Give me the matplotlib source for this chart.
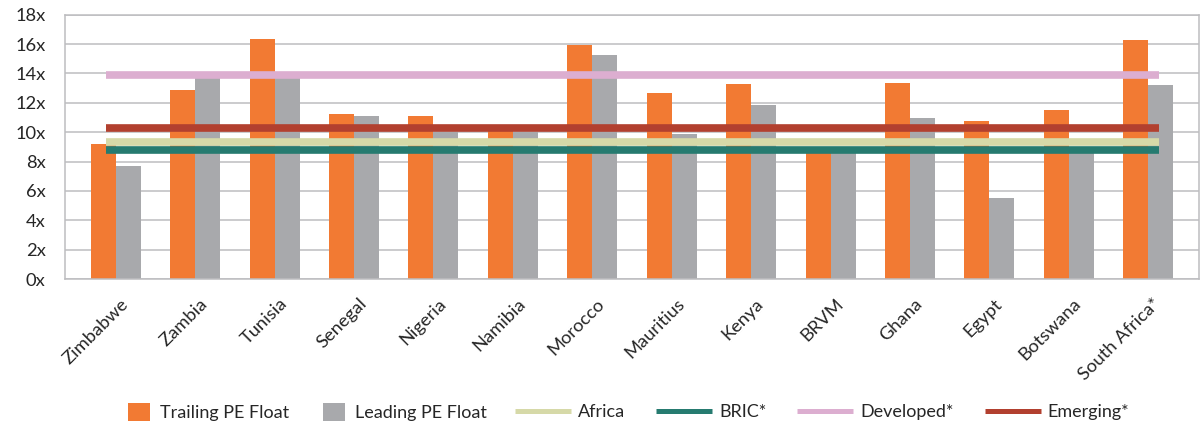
import matplotlib
matplotlib.use('Agg')
import matplotlib.pyplot as plt
import matplotlib.transforms as mtrans
from matplotlib.lines import Line2D
from matplotlib.patches import Patch
import numpy as np

# ---- data ----
countries = ['Zimbabwe', 'Zambia', 'Tunisia', 'Senegal', 'Nigeria', 'Namibia',
             'Morocco', 'Mauritius', 'Kenya', 'BRVM', 'Ghana', 'Egypt',
             'Botswana', 'South Africa*']
trailing_pe = [9.2, 12.9, 16.35, 11.25, 11.1, 10.2, 15.95, 12.7, 13.3, 8.8,
               13.35, 10.75, 11.5, 16.3]
leading_pe = [7.7, 13.8, 13.8, 11.1, 10.0, 10.0, 15.25, 9.9, 11.85, 8.6,
              10.95, 5.5, 8.8, 13.2]
africa_pe = 9.3
bric_pe = 8.8
developed_pe = 13.9
emerging_pe = 10.25
y_ticks = [0, 2, 4, 6, 8, 10, 12, 14, 16, 18]
y_tick_labels = ['0x', '2x', '4x', '6x', '8x', '10x', '12x', '14x', '16x', '18x']

# ---- style ----
ORANGE = '#F27A33'
GREY = '#A8A9AC'
AFRICA = '#D6D9A8'
BRIC = '#267B70'
DEVELOPED = '#DCAED0'
EMERGING = '#B2402F'
GRID = '#BDBDC0'
TEXT = '#262626'
FS = 13.0
TFS = 13.2

plt.rcParams['font.family'] = ['Lato', 'DejaVu Sans']

W, H = 1201, 425
fig = plt.figure(figsize=(W / 100, H / 100), dpi=100)
ax = fig.add_axes([65 / W, 1 - 279 / H, (1199 - 65) / W, (279 - 14.7) / H])

x = np.arange(len(countries))
bw = 0.315
ax.bar(x - bw / 2, trailing_pe, bw, color=ORANGE, zorder=2)
ax.bar(x + bw / 2, leading_pe, bw, color=GREY, zorder=2)
ax.set_xlim(-0.64, len(countries) - 1 + 0.64)
ax.set_ylim(0, 18)
ax.set_yticks(y_ticks, y_tick_labels)
ax.yaxis.grid(True, color=GRID, lw=1.1, zorder=0)
ax.set_axisbelow(True)
for s in ax.spines.values():
    s.set_color(GRID)
    s.set_linewidth(1.1)
ax.tick_params(axis='y', length=0, labelsize=TFS, colors=TEXT, pad=14)
ax.tick_params(axis='x', length=0, labelsize=TFS, colors=TEXT, pad=16)
ax.set_xticks(x, countries, rotation=45, ha='right', va='center',
              rotation_mode='anchor')
off = mtrans.ScaledTranslation(10 / 100, 0, fig.dpi_scale_trans)
for lab in ax.get_xticklabels():
    lab.set_transform(lab.get_transform() + off)

# reference lines on a category axis
ax2 = ax.twiny()
ax2.set_xlim(-0.5, len(countries) - 0.5)
ax2.set_axis_off()
lw = 5.5
for val, col in [(africa_pe, AFRICA), (bric_pe, BRIC),
                 (developed_pe, DEVELOPED), (emerging_pe, EMERGING)]:
    ax2.plot(x, [val] * len(x), color=col, lw=lw, solid_capstyle='butt', zorder=3)

# legends
px = FS * 100 / 72
h1 = [Patch(facecolor=ORANGE, edgecolor='none'), Patch(facecolor=GREY, edgecolor='none')]
fig.legend(h1, ['Trailing PE Float', 'Leading PE Float'], loc='center left',
           bbox_to_anchor=(128 / W, 1 - 412 / H), ncol=2, frameon=False,
           fontsize=FS, labelcolor=TEXT, handlelength=22 / px, handleheight=22 / px,
           handletextpad=10 / px, columnspacing=34 / px, borderpad=0, borderaxespad=0)
h2 = [Line2D([], [], color=c, lw=3.6, solid_capstyle='butt')
      for c in (AFRICA, BRIC, DEVELOPED, EMERGING)]
fig.legend(h2, ['Africa', 'BRIC*', 'Developed*', 'Emerging*'], loc='center left',
           bbox_to_anchor=(515 / W, 1 - 412 / H), ncol=4, frameon=False,
           fontsize=FS, labelcolor=TEXT, handlelength=56 / px,
           handletextpad=7 / px, columnspacing=31 / px, borderpad=0, borderaxespad=0)

fig.savefig('out.png', dpi=100)
